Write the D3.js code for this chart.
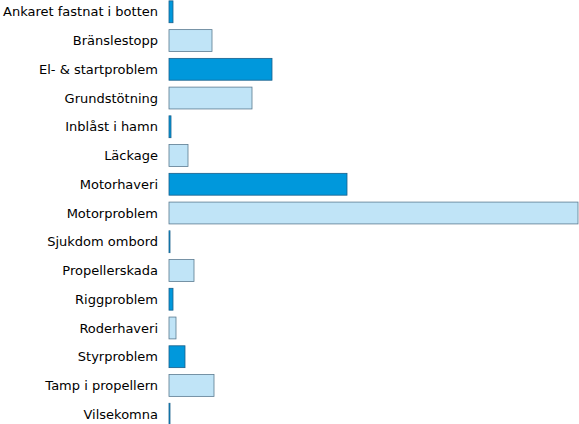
<!DOCTYPE html><html><head><meta charset="utf-8"><script src="https://d3js.org/d3.v7.min.js"></script>
<style>body{margin:0;background:#fff}</style></head><body><svg id="c" width="579" height="424"></svg>
<script>
const categories=["Ankaret fastnat i botten","Bränslestopp","El- & startproblem","Grundstötning","Inblåst i hamn","Läckage","Motorhaveri","Motorproblem","Sjukdom ombord","Propellerskada","Riggproblem","Roderhaveri","Styrproblem","Tamp i propellern","Vilsekomna"];
const values=[4,43,103,83,2,19,178,409,1,25,4,7,16,45,1];
const svg=d3.select("#c");
const x=d3.scaleLinear().domain([0,409]).range([169,578]);
const y=d3.scaleBand().domain(categories).range([-2,428]).paddingInner(0.24).paddingOuter(0.1);
svg.selectAll("rect").data(values).join("rect")
 .attr("x",x(0)).attr("y",(d,i)=>y(categories[i])).attr("width",d=>x(d)-x(0)).attr("height",y.bandwidth())
 .attr("fill",(d,i)=>i%2?"#c0e4f7":"#0098dc").attr("stroke",(d,i)=>i%2?"#5a7a90":"#1a5f8a").attr("stroke-width",0.8);
svg.selectAll("text").data(categories).join("text")
 .attr("x",158).attr("y",d=>y(d)+y.bandwidth()/2).attr("dy","0.35em").attr("text-anchor","end")
 .attr("font-family","DejaVu Sans").attr("font-size",13).attr("textLength",null).attr("fill","#000").text(d=>d);
</script></body></html>
